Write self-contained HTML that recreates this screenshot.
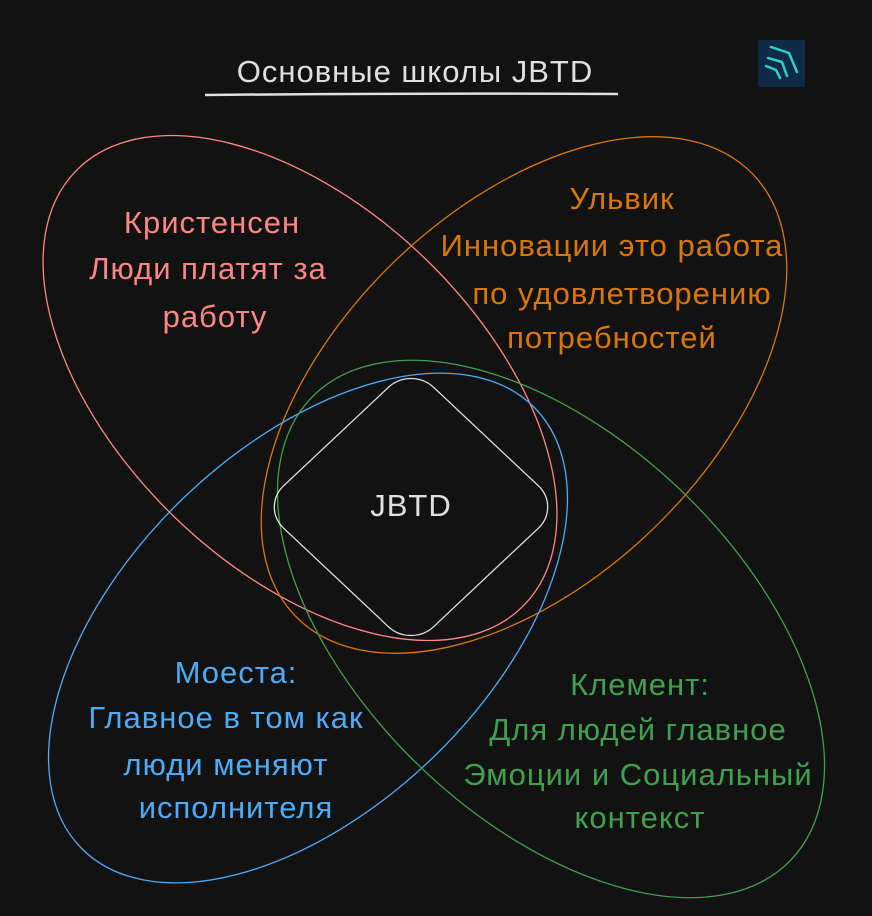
<!DOCTYPE html>
<html><head><meta charset="utf-8"><style>
html,body{margin:0;padding:0;background:#121212;overflow:hidden;width:872px;height:916px;}
svg{display:block}
text{font-family:"Liberation Sans",sans-serif;text-anchor:middle;letter-spacing:1px;}
</style></head><body>
<svg width="872" height="916" viewBox="0 0 872 916" xmlns="http://www.w3.org/2000/svg">
<rect width="872" height="916" fill="#121212"/>
<text x="415" y="82" font-size="31" fill="#e0e0e0">Основные школы JBTD</text>
<path d="M205 95 Q410 93 618 94" stroke="#e0e0e0" stroke-width="2.5" fill="none"/>
<rect x="758" y="40" width="47" height="47" fill="#0f2a45"/>
<g stroke="#2ed3c0" stroke-width="2.5" fill="none" stroke-linecap="round">
<path d="M771 47 L789 53 L797 72"/>
<path d="M768 58 L782 62 L787 76"/>
<path d="M766 66 L776 70 L780 78"/>
</g>
<g fill="none" stroke-width="1.3">
<ellipse cx="300" cy="388" rx="312" ry="180" transform="rotate(44 300 388)" stroke="#ff8787"/>
<ellipse cx="524" cy="395" rx="318" ry="186" transform="rotate(-44 524 395)" stroke="#d97706"/>
<ellipse cx="308" cy="628" rx="316" ry="180" transform="rotate(-44 308 628)" stroke="#4dabf7"/>
<ellipse cx="551" cy="629" rx="333" ry="190" transform="rotate(44 551 629)" stroke="#40a050"/>
<rect x="305" y="401" width="212" height="212" rx="32" transform="translate(411 507) scale(1 0.94) rotate(45) translate(-411 -507)" stroke="#e0e0e0"/>
</g>
<text x="411" y="516" font-size="31" fill="#e0e0e0">JBTD</text>
<g font-size="31" fill="#ff8787">
<text x="212" y="233">Кристенсен</text>
<text x="208" y="279">Люди платят за</text>
<text x="215" y="327">работу</text>
</g>
<g font-size="31" fill="#d97706">
<text x="622" y="209">Ульвик</text>
<text x="612" y="256">Инновации это работа</text>
<text x="622" y="304">по удовлетворению</text>
<text x="612" y="348">потребностей</text>
</g>
<g font-size="31" fill="#4dabf7">
<text x="236" y="683">Моеста:</text>
<text x="226" y="728">Главное в том как</text>
<text x="226" y="775">люди меняют</text>
<text x="236" y="818">исполнителя</text>
</g>
<g font-size="31" fill="#40a050">
<text x="640" y="695">Клемент:</text>
<text x="638" y="740">Для людей главное</text>
<text x="638" y="785">Эмоции и Социальный</text>
<text x="640" y="828">контекст</text>
</g>
</svg>
</body></html>
